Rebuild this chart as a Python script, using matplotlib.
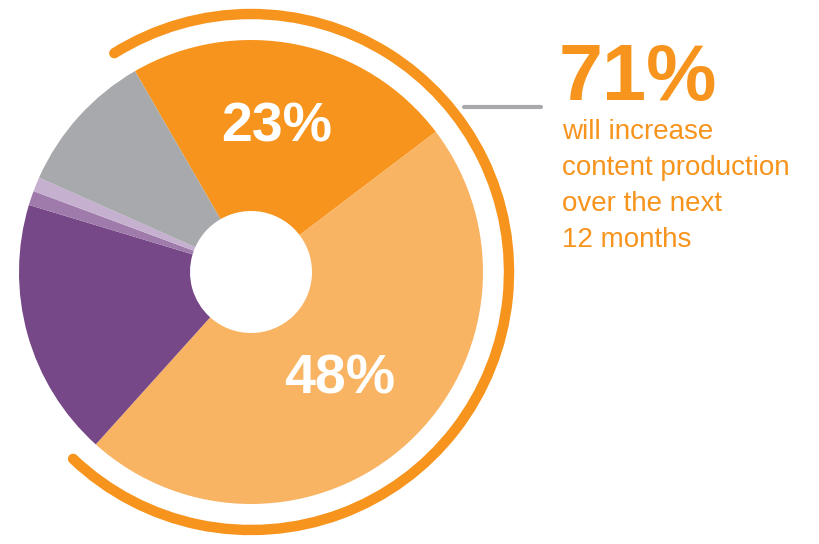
import matplotlib.pyplot as plt
from matplotlib.patches import Arc

# slice shares, clockwise from the top
shares = [23, 47, 18, 1, 1, 10]
colors = ['#F7941D', '#F8B462', '#774887', '#9E7BAA', '#C6B0D0', '#A7A9AC']
labels = ['23%', '48%', '', '', '', '']
highlight = 71
note_lines = ['will increase', 'content production', 'over the next', '12 months']

orange = '#F7941D'
grey = '#A7A9AC'

fig = plt.figure(figsize=(8.19, 5.44), dpi=100)
ax = fig.add_axes([0, 0, 1, 1])
ax.set_aspect('equal')

cx, cy = 251, 272
R = 232
hole = 61

wedges, _ = ax.pie(shares, colors=colors, startangle=120, counterclock=False,
                   center=(cx, cy), radius=R, frame=True,
                   wedgeprops=dict(width=R - hole, linewidth=0))
ax.set_xlim(0, 819)
ax.set_ylim(0, 544)
ax.axis('off')

# percentage labels on the two big slices
ax.text(277, 416, labels[0], color='white', fontsize=40, fontweight='bold',
        family='Liberation Sans', ha='center', va='center')
ax.text(340, 164, labels[1], color='white', fontsize=40, fontweight='bold',
        family='Liberation Sans', ha='center', va='center')

# outer arc covering the 71% share
span = highlight / 100 * 360
start = 122
arc = Arc((cx, cy), 2 * 258, 2 * 258, theta1=start - span, theta2=start,
          color=orange, lw=7.5)
arc.set_capstyle('round')
ax.add_patch(arc)

# leader line
ax.plot([464, 541], [437, 437], color=grey, lw=3, solid_capstyle='round')

ax.text(559, 444, f'{highlight}%', color=orange, fontsize=57, fontweight='bold',
        family='Liberation Sans', ha='left', va='baseline')

for i, line in enumerate(note_lines):
    ax.text(562, 544 - 139 - i * 36, line, color=orange, fontsize=20,
            family='Liberation Sans', ha='left', va='baseline')

fig.savefig('out.png', dpi=100)
